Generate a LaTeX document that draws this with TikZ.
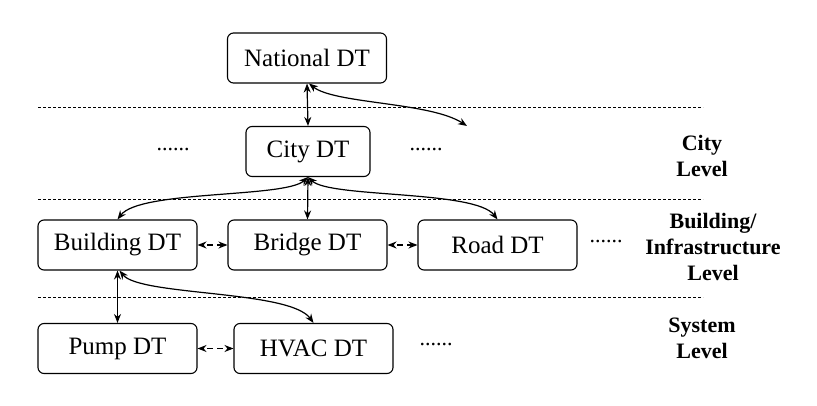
\documentclass[tikz,border=0pt]{standalone}
\usepackage{fontspec}
\setmainfont{Liberation Serif}
\usetikzlibrary{arrows.meta}
\begin{document}
\begin{tikzpicture}[x=1pt,y=-1pt,
  dt/.style={draw,line width=1.1pt,rounded corners=6pt,minimum width=159pt,minimum height=50pt,inner sep=0pt,font=\rmfamily\fontsize{25}{28}\selectfont},
  lvl/.style={font=\rmfamily\fontsize{22}{26}\selectfont\bfseries,align=center},
  dots/.style={font=\rmfamily\fontsize{22}{26}\selectfont},
  sep/.style={line width=0.8pt,dash pattern=on 3pt off 2pt},
  link/.style={line width=1.2pt,{Stealth[length=9pt,width=7pt]}-{Stealth[length=9pt,width=7pt]}},
  dlink/.style={link,dash pattern=on 6pt off 4pt,dash phase=6pt}]
\useasboundingbox (0,0) rectangle (817,406);
% separators
\coordinate (s1a) at (38,107); \coordinate (s1b) at (703,107);
\coordinate (s2a) at (38,199); \coordinate (s2b) at (703,199);
\coordinate (s3a) at (38,297); \coordinate (s3b) at (703,297);
\draw[sep] (s1a) -- (s1b);
\draw[sep] (s2a) -- (s2b);
\draw[sep] (s3a) -- (s3b);
% nodes
\node[dt] (nat) at (307,58) {National DT};
\node[dt,minimum width=124pt] (city) at (308,151.5) {City DT};
\node[dt] (bld) at (117.5,245) {Building DT};
\node[dt] (brg) at (307.5,245) {Bridge DT};
\node[dt] (road) at (497.5,245) {Road DT};
\node[dt] (pump) at (117.5,348.5) {Pump DT};
\node[dt] (hvac) at (313.5,348.5) {HVAC DT};
% dots
\node[dots] (d1) at (173,150) {......};
\node[dots] (d2) at (426,150) {......};
\node[dots] (d3) at (606,242) {......};
\node[dots] (d4) at (436,345) {......};
% level labels
\node[lvl] (lc) at (702,156) {City\\Level};
\node[lvl] (lb) at (713,247) {Building/\\Infrastructure\\Level};
\node[lvl] (ls) at (702,338) {System\\Level};
% connectors
\coordinate (far) at (467,126);
\draw[link] (nat.south) -- (city.north);
\draw[link] ([xshift=2pt]nat.south) .. controls (335,104) and (430,102) .. (far);
\draw[link] (city.south) .. controls (285,198) and (140,190) .. (bld.north);
\draw[link] (city.south) -- (brg.north);
\draw[link] (city.south) .. controls (330,198) and (475,190) .. (road.north);
\draw[dlink] (bld.east) -- (brg.west);
\draw[dlink] (brg.east) -- (road.west);
\draw[link] (bld.south) -- (pump.north);
\draw[link] ([xshift=2pt]bld.south) .. controls (140,296) and (290,290) .. (hvac.north);
\draw[dlink] (pump.east) -- (hvac.west);
\end{tikzpicture}
\end{document}
